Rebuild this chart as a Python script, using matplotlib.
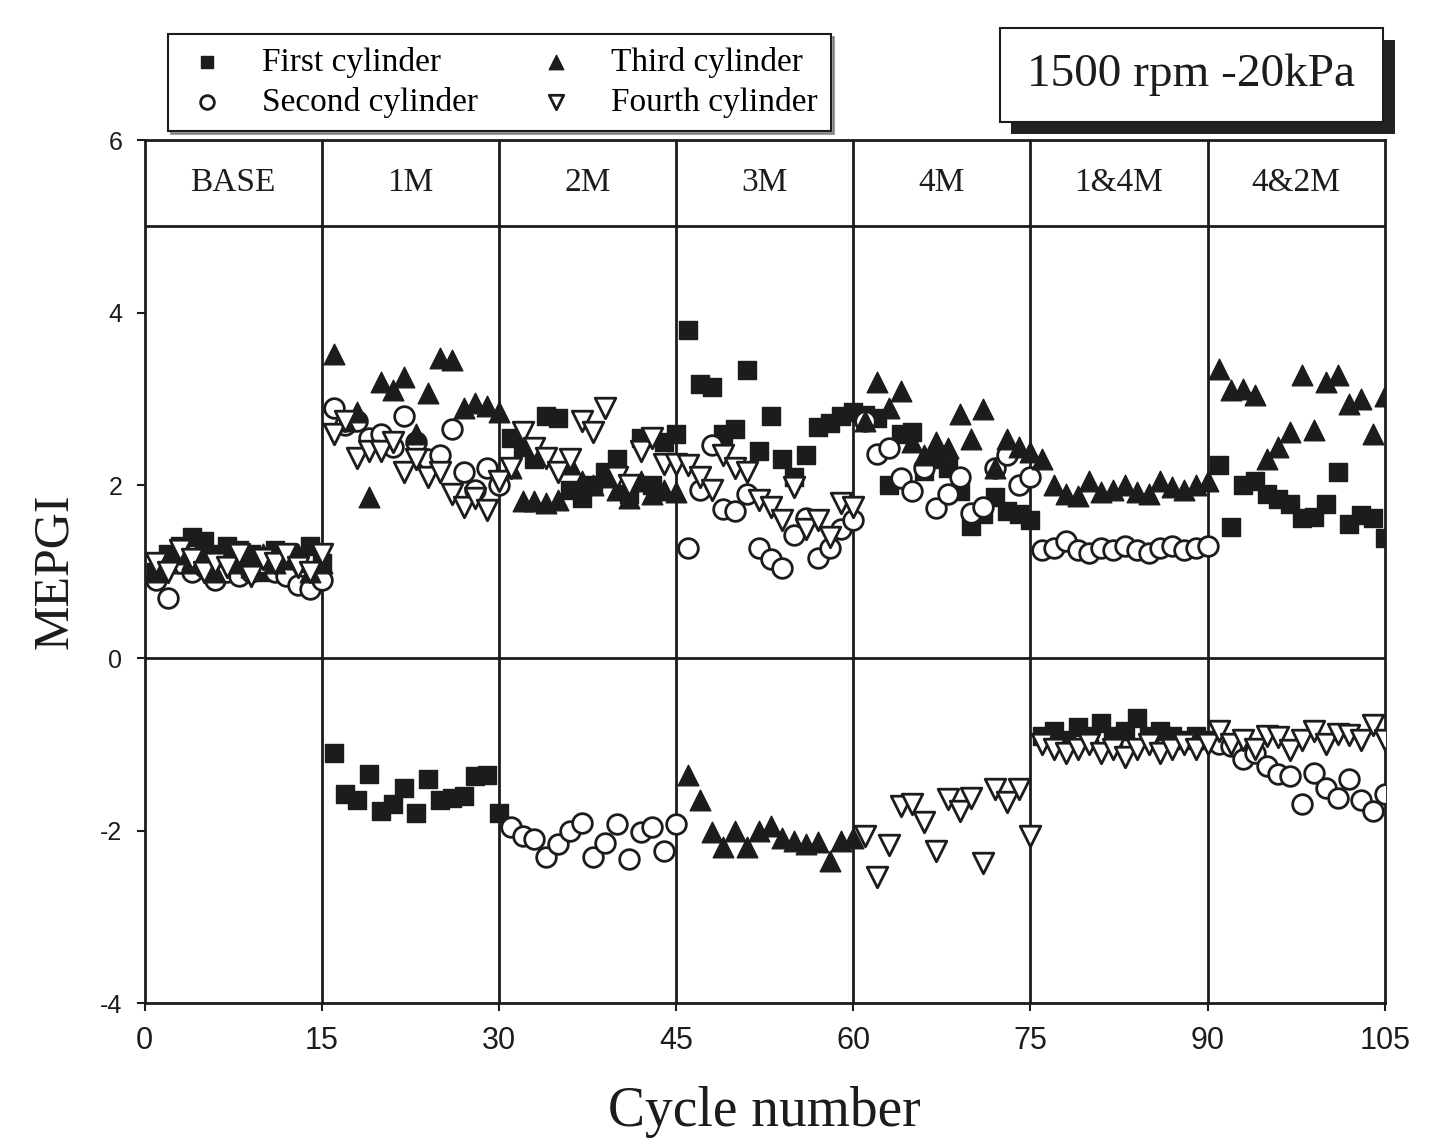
import numpy as np
import matplotlib
matplotlib.use('Agg')
import matplotlib.pyplot as plt
from matplotlib.patches import Rectangle

plt.rcParams['axes.unicode_minus'] = False

# segment names and boundaries (cycle number)
segments = ["BASE", "1M", "2M", "3M", "4M", "1&4M", "4&2M"]
seg_edges = [0, 15, 30, 45, 60, 75, 90, 105]
x_ticks = [0, 15, 30, 45, 60, 75, 90, 105]
y_ticks = [-4, -2, 0, 2, 4, 6]

# MEPGI per cycle, one row per segment (15 cycles each)
first_cyl = [
    1.0, 1.2, 1.3, 1.4, 1.35, 1.2, 1.3, 1.25, 1.2, 1.0, 1.25, 1.2, 1.1, 1.3, 1.1,
    -1.1, -1.57, -1.65, -1.34, -1.77, -1.69, -1.5, -1.79, -1.4, -1.65, -1.62, -1.6, -1.37, -1.35, -1.79,
    2.55, 2.45, 2.3, 2.8, 2.78, 1.95, 1.85, 2.0, 2.15, 2.3, 1.9, 2.55, 2.0, 2.5, 2.6,
    3.8, 3.18, 3.14, 2.6, 2.65, 3.34, 2.4, 2.8, 2.31, 2.1, 2.35, 2.68, 2.72, 2.8, 2.85,
    2.82, 2.78, 2.0, 2.6, 2.62, 2.17, 2.3, 2.2, 1.93, 1.53, 1.67, 1.86, 1.7, 1.67, 1.6,
    -0.9, -0.85, -0.95, -0.8, -0.9, -0.75, -0.9, -0.85, -0.7, -0.9, -0.85, -0.9, -0.95, -0.9, -0.95,
    2.24, 1.52, 2.0, 2.05, 1.9, 1.84, 1.78, 1.62, 1.63, 1.78, 2.16, 1.55, 1.66, 1.62, 1.39,
]
second_cyl = [
    0.9, 0.7, 1.1, 1.0, 1.05, 0.9, 1.0, 0.95, 1.0, 1.1, 1.0, 0.95, 0.85, 0.8, 0.9,
    2.9, 2.7, 2.75, 2.55, 2.6, 2.45, 2.8, 2.5, 2.3, 2.35, 2.65, 2.15, 1.95, 2.2, 2.0,
    -1.96, -2.06, -2.1, -2.3, -2.15, -2.0, -1.91, -2.31, -2.14, -1.92, -2.33, -2.02, -1.96, -2.23, -1.92,
    1.27, 1.95, 2.47, 1.73, 1.7, 1.9, 1.27, 1.15, 1.04, 1.43, 1.62, 1.16, 1.27, 1.5, 1.6,
    2.74, 2.36, 2.43, 2.08, 1.93, 2.2, 1.74, 1.9, 2.1, 1.68, 1.75, 2.2, 2.35, 2.0, 2.1,
    1.25, 1.28, 1.35, 1.25, 1.22, 1.27, 1.25, 1.3, 1.25, 1.22, 1.28, 1.3, 1.25, 1.27, 1.3,
    -1.0, -1.02, -1.17, -1.1, -1.25, -1.34, -1.37, -1.69, -1.33, -1.5, -1.62, -1.4, -1.64, -1.77, -1.57,
]
third_cyl = [
    1.0, 1.1, 1.2, 1.1, 1.15, 1.0, 1.2, 1.1, 1.05, 1.2, 1.1, 1.15, 1.2, 1.0, 1.1,
    3.52, 2.75, 2.85, 1.87, 3.2, 3.1, 3.25, 2.6, 3.07, 3.47, 3.45, 2.9, 2.95, 2.92, 2.85,
    2.2, 1.82, 1.82, 1.8, 1.83, 2.25, 2.05, 2.0, 2.1, 1.95, 1.85, 2.05, 1.9, 1.95, 1.92,
    -1.35, -1.65, -2.02, -2.19, -2.0, -2.19, -2.0, -1.94, -2.09, -2.12, -2.15, -2.13, -2.35, -2.12, -2.08,
    2.75, 3.2, 2.9, 3.09, 2.5, 2.35, 2.5, 2.43, 2.83, 2.54, 2.89, 2.2, 2.54, 2.45, 2.39,
    2.3, 2.0, 1.9, 1.88, 2.05, 1.92, 1.95, 2.0, 1.92, 1.9, 2.05, 1.98, 1.95, 2.0, 2.05,
    3.35, 3.1, 3.12, 3.05, 2.3, 2.45, 2.62, 3.28, 2.64, 3.2, 3.28, 2.94, 3.0, 2.59, 3.03,
]
fourth_cyl = [
    1.1, 1.0, 1.25, 1.15, 1.0, 1.1, 1.05, 1.2, 0.95, 1.15, 1.1, 1.2, 1.05, 1.0, 1.2,
    2.6, 2.75, 2.32, 2.4, 2.4, 2.5, 2.15, 2.3, 2.1, 2.15, 1.9, 1.75, 1.85, 1.72, 2.05,
    2.2, 2.62, 2.43, 2.32, 2.15, 2.3, 2.74, 2.62, 2.9, 2.1, 2.0, 2.4, 2.55, 2.25, 2.25,
    2.24, 2.1, 1.95, 2.35, 2.2, 2.15, 1.83, 1.75, 1.6, 1.98, 1.5, 1.6, 1.4, 1.8, 1.75,
    -2.06, -2.54, -2.17, -1.71, -1.69, -1.9, -2.23, -1.63, -1.77, -1.62, -2.37, -1.52, -1.67, -1.52, -2.06,
    -1.0, -1.05, -1.1, -1.05, -1.0, -1.1, -1.05, -1.15, -1.05, -1.0, -1.1, -1.05, -1.0, -1.05, -1.0,
    -0.84, -1.0, -0.95, -1.05, -0.9, -0.92, -1.06, -0.95, -0.84, -1.0, -0.88, -0.89, -0.95, -0.78, -0.95,
]
cycles = np.arange(1, len(first_cyl) + 1)

ink = '#1c1c1c'
serif = 'Liberation Serif'

fig = plt.figure(figsize=(14.32, 11.48), dpi=100)
ax = fig.add_axes([0.101, 0.126, 0.866, 0.752])

# grid of segment boxes
for e in seg_edges[1:-1]:
    ax.axvline(e, color=ink, lw=2, zorder=1)
ax.axhline(0, color=ink, lw=2, zorder=1)
ax.axhline(5, color=ink, lw=2, zorder=1)
for i, name in enumerate(segments):
    xc = (seg_edges[i] + seg_edges[i + 1]) / 2
    ax.text(xc, 5.5, name, ha='center', va='center', fontsize=24,
            family=serif, color=ink)

h1 = ax.scatter(cycles, first_cyl, marker='s', s=160, color=ink, zorder=3,
                label='First cylinder')
h2 = ax.scatter(cycles, second_cyl, marker='o', s=200, facecolor='white',
                edgecolor=ink, linewidths=2, zorder=3, label='Second cylinder')
h3 = ax.scatter(cycles, third_cyl, marker='^', s=220, color=ink, zorder=3,
                label='Third cylinder')
h4 = ax.scatter(cycles, fourth_cyl, marker='v', s=220, facecolor='white',
                edgecolor=ink, linewidths=2, zorder=3, label='Fourth cylinder')

ax.set_xlim(0, 105)
ax.set_ylim(-4, 6)
ax.set_xticks(x_ticks)
ax.set_yticks(y_ticks)
for sp in ax.spines.values():
    sp.set_linewidth(2)
    sp.set_color(ink)
ax.tick_params(axis='both', direction='out', length=6, width=1.5, colors=ink)
ax.tick_params(axis='x', labelsize=22, pad=10)
ax.tick_params(axis='y', labelsize=18, pad=10)
for lab in ax.get_xticklabels() + ax.get_yticklabels():
    lab.set_family('Liberation Sans')

ax.set_xlabel('Cycle number', fontsize=40, family=serif, color=ink, labelpad=22)
ax.set_ylabel('MEPGI', fontsize=36, family=serif, color=ink, labelpad=16)

leg = fig.legend(handles=[h1, h2, h3, h4], ncol=2, loc='upper left',
                 bbox_to_anchor=(0.106, 0.985), frameon=True, fancybox=False,
                 shadow=True, prop={'family': serif, 'size': 24},
                 handletextpad=0.9, columnspacing=1.6, labelspacing=0.25,
                 borderpad=0.4, markerscale=0.7, handlelength=1.5)
leg.get_frame().set_edgecolor(ink)
leg.get_frame().set_linewidth(1.5)

# condition label box with shadow
bx, by, bw, bh = 0.698, 0.894, 0.268, 0.082
fig.patches.append(Rectangle((bx + 0.008, by - 0.011), bw, bh, transform=fig.transFigure,
                             facecolor='#222222', edgecolor='none', zorder=1))
fig.patches.append(Rectangle((bx, by), bw, bh, transform=fig.transFigure,
                             facecolor='white', edgecolor=ink, lw=1.5, zorder=2))
fig.text(bx + bw / 2, by + bh / 2, '1500 rpm -20kPa', ha='center', va='center',
         fontsize=34, family=serif, color=ink, zorder=3)

fig.savefig('out.png', dpi=100)
